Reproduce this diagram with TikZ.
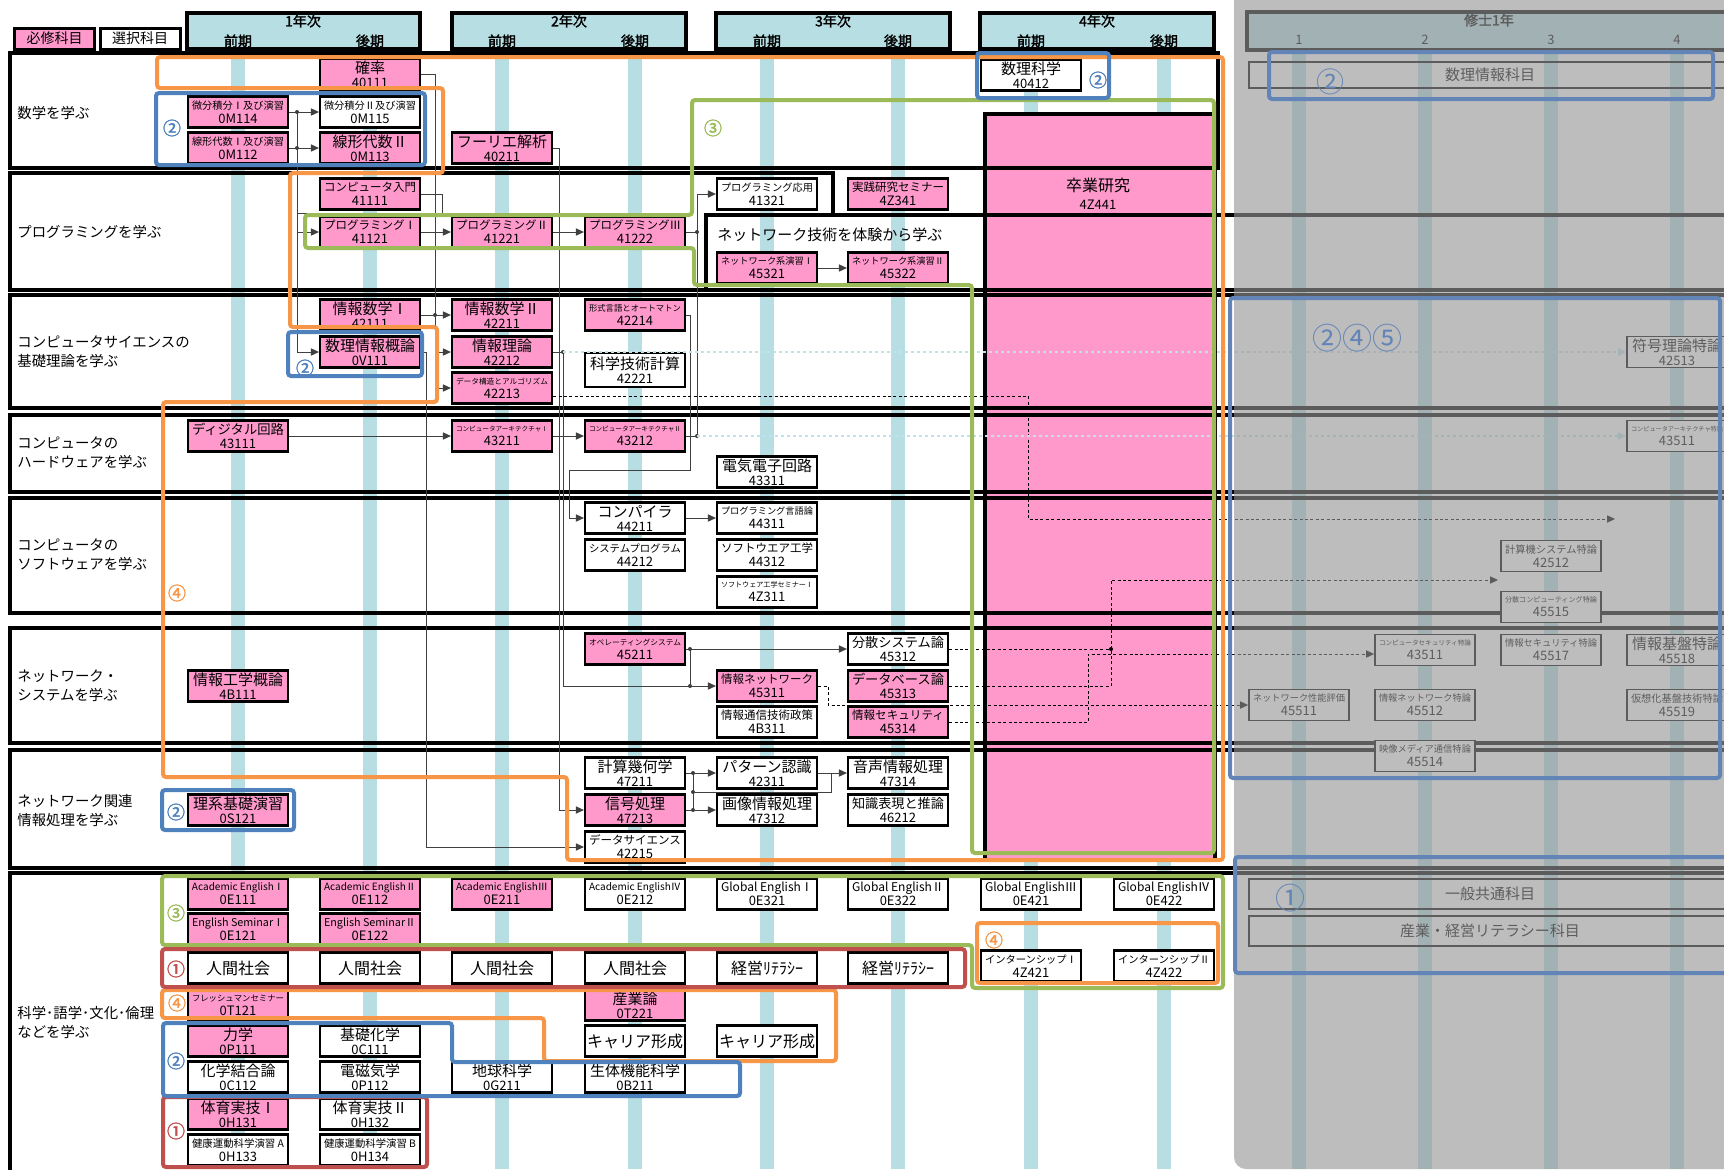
\documentclass[tikz,border=0pt]{standalone}
\usepackage{fontspec}
\setmainfont{Noto Sans CJK JP}[AutoFakeBold=2]
\usepackage{graphicx}
\usetikzlibrary{arrows.meta}

\definecolor{pinkbox}{HTML}{FF99CC}
\definecolor{stripe}{HTML}{B7DEE3}
\definecolor{grporange}{HTML}{F79646}
\definecolor{grpblue}{HTML}{4F81BD}
\definecolor{grpgreen}{HTML}{9BBB59}
\definecolor{grpred}{HTML}{C0504D}
\definecolor{coverg}{HTML}{969696}
\definecolor{fadeblue}{HTML}{6384B6}
\definecolor{linegray}{HTML}{404040}
\definecolor{faintcyan}{HTML}{BFE3E8}

\newsavebox\knbox
\newcommand\kname[1]{\sbox\knbox{#1}\ifdim\wd\knbox>46pt\resizebox{46pt}{!}{\usebox\knbox}\else\usebox\knbox\fi}
\newcommand\subj[2]{\kname{#1}\\[-1.5pt]{\fontsize{6.5}{7}\selectfont #2}}

\tikzset{
  >={Triangle[length=4pt,width=3.6pt]},
  kamoku/.style={draw, line width=1.1pt, minimum width=50pt, minimum height=15.5pt, inner sep=0pt, align=center, font=\fontsize{7.5}{8.5}\selectfont},
  hissu/.style={kamoku, fill=pinkbox},
  sentaku/.style={kamoku, fill=white},
  gbox/.style={kamoku, fill=white, line width=0.9pt},
  hdr/.style={draw, line width=1.8pt, fill=stripe},
  hdrtext/.style={font=\fontsize{7}{7}\selectfont\bfseries, inner sep=0pt},
  rowline/.style={line width=1.8pt},
  rowlabel/.style={anchor=west, align=left, inner sep=0pt, font=\fontsize{7.2}{9.5}\selectfont},
  conn/.style={draw=linegray, line width=0.5pt},
  dconn/.style={draw=black, line width=0.5pt, dash pattern=on 1.5pt off 1.2pt},
  fconn/.style={draw=faintcyan, line width=0.6pt, dash pattern=on 1.5pt off 1.5pt},
  grp/.style={line width=2pt, rounded corners=1.5pt},
  numlabel/.style={inner sep=0pt, font=\fontsize{9}{9}\selectfont\bfseries},
}

\begin{document}
\begin{tikzpicture}[x=0.5pt,y=-0.5pt]
\useasboundingbox (0,0) rectangle (1724,1169);
\fill[white] (0,0) rectangle (1724,1169);

% stripes under every term
\fill[stripe] (231,49) rectangle (245,1169);
\fill[stripe] (363,49) rectangle (377,1169);
\fill[stripe] (495,49) rectangle (509,1169);
\fill[stripe] (628,49) rectangle (642,1169);
\fill[stripe] (760,49) rectangle (774,1169);
\fill[stripe] (891,49) rectangle (905,1169);
\fill[stripe] (1024,49) rectangle (1038,1169);
\fill[stripe] (1157,49) rectangle (1171,1169);
\fill[stripe] (1292,50) rectangle (1306,1169);
\fill[stripe] (1418,50) rectangle (1432,1169);
\fill[stripe] (1544,50) rectangle (1558,1169);
\fill[stripe] (1670,50) rectangle (1684,1169);

% graduation research
\node[draw, line width=1.8pt, fill=pinkbox, minimum width=115pt, minimum height=373pt, anchor=north west, inner sep=0pt] (c4Z441) at (983,112) {};
\node[align=center, inner sep=0pt, font=\fontsize{8}{9}\selectfont] (t4Z441) at (1098,194) {卒業研究\\{\fontsize{6.5}{7}\selectfont 4Z441}};

% legend
\node[kamoku, fill=pinkbox, minimum width=40pt, minimum height=10.5pt, line width=1.5pt, font=\fontsize{7}{7}\selectfont] (leg1) at (54.5,38.5) {必修科目};
\node[kamoku, fill=white, minimum width=40pt, minimum height=10.5pt, line width=1.5pt, font=\fontsize{7}{7}\selectfont] (leg2) at (140,38.5) {選択科目};

% year headers
\draw[hdr] (187,13) rectangle (420,49);
\node[hdrtext] (y1) at (303,21) {1年次};
\node[hdrtext] (y1a) at (238,41) {前期};
\node[hdrtext] (y1b) at (370,41) {後期};
\draw[hdr] (452,13) rectangle (686,49);
\node[hdrtext] (y2) at (569,21) {2年次};
\node[hdrtext] (y2a) at (502,41) {前期};
\node[hdrtext] (y2b) at (635,41) {後期};
\draw[hdr] (716,13) rectangle (950,49);
\node[hdrtext] (y3) at (833,21) {3年次};
\node[hdrtext] (y3a) at (767,41) {前期};
\node[hdrtext] (y3b) at (898,41) {後期};
\draw[hdr] (980,13) rectangle (1214,49);
\node[hdrtext] (y4) at (1097,21) {4年次};
\node[hdrtext] (y4a) at (1031,41) {前期};
\node[hdrtext] (y4b) at (1164,41) {後期};
\draw[hdr] (1247,12) rectangle (1745,50);
\node[hdrtext] (m1) at (1489,20) {修士1年};
\node[inner sep=0pt, font=\fontsize{6.5}{7}\selectfont] (m1a) at (1299,40) {1};
\node[inner sep=0pt, font=\fontsize{6.5}{7}\selectfont] (m1b) at (1425,40) {2};
\node[inner sep=0pt, font=\fontsize{6.5}{7}\selectfont] (m1c) at (1551,40) {3};
\node[inner sep=0pt, font=\fontsize{6.5}{7}\selectfont] (m1d) at (1677,40) {4};

% rows
\draw[rowline] (10,53) rectangle (1218,168);
\draw[rowline] (833,215) |- (10,173) -- (10,290) -- (1745,290);
\draw[rowline] (1745,215) -- (706,215) -- (706,290);
\draw[rowline] (1745,295) -- (10,295) -- (10,408) -- (1745,408);
\draw[rowline] (1745,415) -- (10,415) -- (10,492) -- (1745,492);
\draw[rowline] (1745,498) -- (10,498) -- (10,613) -- (1745,613);
\draw[rowline] (1745,628) -- (10,628) -- (10,743) -- (1745,743);
\draw[rowline] (1745,750) -- (10,750) -- (10,868) -- (1745,868);
\draw[rowline] (1745,873) -- (10,873) -- (10,1180);

\node[rowlabel] (l1) at (17,113) {数学を学ぶ};
\node[rowlabel] (l2) at (17,232) {プログラミングを学ぶ};
\node[rowlabel] (l3) at (17,352) {コンピュータサイエンスの\\基礎理論を学ぶ};
\node[rowlabel] (l4) at (17,453) {コンピュータの\\ハードウェアを学ぶ};
\node[rowlabel] (l5) at (17,555) {コンピュータの\\ソフトウェアを学ぶ};
\node[rowlabel] (l6) at (17,686) {ネットワーク・\\システムを学ぶ};
\node[rowlabel] (l7) at (17,811) {ネットワーク関連\\情報処理を学ぶ};
\node[rowlabel] (l8) at (17,1022) {科学･語学･文化･倫理\\などを学ぶ};
\node[rowlabel, font=\fontsize{7.5}{9}\selectfont] (l2b) at (717,235) {ネットワーク技術を体験から学ぶ};

% mathematics
\node[hissu] (c40111) at (370,74) {\subj{確率}{40111}};
\node[hissu] (c0M114) at (238,112) {\subj{微分積分Ⅰ及び演習}{0M114}};
\node[sentaku] (c0M115) at (370,112) {\subj{微分積分Ⅱ及び演習}{0M115}};
\node[hissu] (c0M112) at (238,148) {\subj{線形代数Ⅰ及び演習}{0M112}};
\node[hissu] (c0M113) at (370,148) {\subj{線形代数Ⅱ}{0M113}};
\node[hissu] (c40211) at (502,148) {\subj{フーリエ解析}{40211}};
\node[sentaku] (c40412) at (1031,75) {\subj{数理科学}{40412}};

% programming
\node[hissu] (c41111) at (370,194) {\subj{コンピュータ入門}{41111}};
\node[hissu] (c41121) at (370,232) {\subj{プログラミングⅠ}{41121}};
\node[hissu] (c41221) at (502,232) {\subj{プログラミングⅡ}{41221}};
\node[hissu] (c41222) at (635,232) {\subj{プログラミングⅢ}{41222}};
\node[sentaku] (c41321) at (767,194) {\subj{プログラミング応用}{41321}};
\node[hissu] (c4Z341) at (898,194) {\subj{実践研究セミナー}{4Z341}};
\node[hissu] (c45321) at (767,268) {\subj{ネットワーク系演習Ⅰ}{45321}};
\node[hissu] (c45322) at (898,268) {\subj{ネットワーク系演習Ⅱ}{45322}};

% theory
\node[hissu] (c42111) at (370,315) {\subj{情報数学Ⅰ}{42111}};
\node[hissu] (c0V111) at (370,352) {\subj{数理情報概論}{0V111}};
\node[hissu] (c42211) at (502,315) {\subj{情報数学Ⅱ}{42211}};
\node[hissu] (c42212) at (502,352) {\subj{情報理論}{42212}};
\node[hissu] (c42213) at (502,388) {\subj{データ構造とアルゴリズム}{42213}};
\node[hissu] (c42214) at (635,315) {\subj{形式言語とオートマトン}{42214}};
\node[sentaku, minimum height=17pt] (c42221) at (635,370) {\subj{科学技術計算}{42221}};

% hardware
\node[hissu] (c43111) at (238,436) {\subj{ディジタル回路}{43111}};
\node[hissu] (c43211) at (502,436) {\subj{コンピュータアーキテクチャⅠ}{43211}};
\node[hissu] (c43212) at (635,436) {\subj{コンピュータアーキテクチャⅡ}{43212}};
\node[sentaku] (c43311) at (767,472) {\subj{電気電子回路}{43311}};

% software
\node[sentaku] (c44211) at (635,518) {\subj{コンパイラ}{44211}};
\node[sentaku] (c44212) at (635,555) {\subj{システムプログラム}{44212}};
\node[sentaku] (c44311) at (767,518) {\subj{プログラミング言語論}{44311}};
\node[sentaku] (c44312) at (767,555) {\subj{ソフトウエア工学}{44312}};
\node[sentaku] (c4Z311) at (767,592) {\subj{ソフトウェア工学セミナーⅠ}{4Z311}};

% network systems
\node[hissu] (c4B111) at (238,686) {\subj{情報工学概論}{4B111}};
\node[hissu] (c45211) at (635,649) {\subj{オペレーティングシステム}{45211}};
\node[sentaku] (c45312) at (898,649) {\subj{分散システム論}{45312}};
\node[hissu] (c45311) at (767,686) {\subj{情報ネットワーク}{45311}};
\node[hissu] (c45313) at (898,686) {\subj{データベース論}{45313}};
\node[sentaku] (c4B311) at (767,722) {\subj{情報通信技術政策}{4B311}};
\node[hissu] (c45314) at (898,722) {\subj{情報セキュリティ}{45314}};

% network related processing
\node[hissu] (c0S121) at (238,810) {\subj{理系基礎演習}{0S121}};
\node[sentaku] (c47211) at (635,773) {\subj{計算幾何学}{47211}};
\node[hissu] (c47213) at (635,810) {\subj{信号処理}{47213}};
\node[sentaku] (c42215) at (635,847) {\subj{データサイエンス}{42215}};
\node[sentaku] (c42311) at (767,773) {\subj{パターン認識}{42311}};
\node[sentaku] (c47312) at (767,810) {\subj{画像情報処理}{47312}};
\node[sentaku] (c47314) at (898,773) {\subj{音声情報処理}{47314}};
\node[sentaku] (c46212) at (898,810) {\subj{知識表現と推論}{46212}};

% general subjects
\node[hissu] (c0E111) at (238,894) {\subj{Academic EnglishⅠ}{0E111}};
\node[hissu] (c0E112) at (370,894) {\subj{Academic EnglishⅡ}{0E112}};
\node[hissu] (c0E211) at (502,894) {\subj{Academic EnglishⅢ}{0E211}};
\node[sentaku] (c0E212) at (635,894) {\subj{Academic EnglishⅣ}{0E212}};
\node[sentaku] (c0E321) at (767,894) {\subj{Global EnglishⅠ}{0E321}};
\node[sentaku] (c0E322) at (898,894) {\subj{Global EnglishⅡ}{0E322}};
\node[sentaku] (c0E421) at (1031,894) {\subj{Global EnglishⅢ}{0E421}};
\node[sentaku] (c0E422) at (1164,894) {\subj{Global EnglishⅣ}{0E422}};
\node[hissu] (c0E121) at (238,929) {\subj{English SeminarⅠ}{0E121}};
\node[hissu] (c0E122) at (370,929) {\subj{English SeminarⅡ}{0E122}};
\node[sentaku, font=\fontsize{8}{9}\selectfont] (jin1) at (238,968) {人間社会};
\node[sentaku, font=\fontsize{8}{9}\selectfont] (jin2) at (370,968) {人間社会};
\node[sentaku, font=\fontsize{8}{9}\selectfont] (jin3) at (502,968) {人間社会};
\node[sentaku, font=\fontsize{8}{9}\selectfont] (jin4) at (635,968) {人間社会};
\node[sentaku, font=\fontsize{8}{9}\selectfont] (kei1) at (767,968) {経営ﾘﾃﾗｼｰ};
\node[sentaku, font=\fontsize{8}{9}\selectfont] (kei2) at (898,968) {経営ﾘﾃﾗｼｰ};
\node[sentaku] (c4Z421) at (1031,966) {\subj{インターンシップⅠ}{4Z421}};
\node[sentaku] (c4Z422) at (1164,966) {\subj{インターンシップⅡ}{4Z422}};
\node[hissu] (c0T121) at (238,1005) {\subj{フレッシュマンセミナー}{0T121}};
\node[hissu] (c0T221) at (635,1005) {\subj{産業論}{0T221}};
\node[hissu] (c0P111) at (238,1041) {\subj{力学}{0P111}};
\node[sentaku] (c0C111) at (370,1041) {\subj{基礎化学}{0C111}};
\node[sentaku, font=\fontsize{8}{9}\selectfont] (car1) at (635,1041) {キャリア形成};
\node[sentaku, font=\fontsize{8}{9}\selectfont] (car2) at (767,1041) {キャリア形成};
\node[sentaku] (c0C112) at (238,1077) {\subj{化学結合論}{0C112}};
\node[sentaku] (c0P112) at (370,1077) {\subj{電磁気学}{0P112}};
\node[sentaku] (c0G211) at (502,1077) {\subj{地球科学}{0G211}};
\node[sentaku] (c0B211) at (635,1077) {\subj{生体機能科学}{0B211}};
\node[hissu] (c0H131) at (238,1114) {\subj{体育実技Ⅰ}{0H131}};
\node[sentaku] (c0H132) at (370,1114) {\subj{体育実技Ⅱ}{0H132}};
\node[sentaku] (c0H133) at (238,1150) {\subj{健康運動科学演習 A}{0H133}};
\node[sentaku] (c0H134) at (370,1150) {\subj{健康運動科学演習 B}{0H134}};

% master course
\draw[line width=1.1pt] (1249,62) rectangle (1745,88);
\node[font=\fontsize{7.5}{8}\selectfont] (sj1) at (1490,75) {数理情報科目};
\node[gbox] (m42513) at (1677,352) {\subj{符号理論特論}{42513}};
\node[gbox] (m43511) at (1677,436) {\subj{コンピュータアーキテクチャ特論}{43511}};
\node[gbox] (m42512) at (1551,556) {\subj{計算機システム特論}{42512}};
\node[gbox] (m45515) at (1551,607) {\subj{分散コンピューティング特論}{45515}};
\node[gbox] (m43511s) at (1425,650) {\subj{コンピュータセキュリティ特論}{43511}};
\node[gbox] (m45517) at (1551,650) {\subj{情報セキュリティ特論}{45517}};
\node[gbox] (m45518) at (1677,650) {\subj{情報基盤特論}{45518}};
\node[gbox] (m45511) at (1299,705) {\subj{ネットワーク性能評価}{45511}};
\node[gbox] (m45512) at (1425,705) {\subj{情報ネットワーク特論}{45512}};
\node[gbox] (m45519) at (1677,705) {\subj{仮想化基盤技術特論}{45519}};
\node[gbox] (m45514) at (1425,756) {\subj{映像メディア通信特論}{45514}};
\draw[line width=1.1pt] (1249,879) rectangle (1745,909);
\node[font=\fontsize{7.5}{8}\selectfont] (sj2) at (1490,894) {一般共通科目};
\draw[line width=1.1pt] (1249,916) rectangle (1745,946);
\node[font=\fontsize{7.5}{8}\selectfont] (sj3) at (1490,931) {産業・経営リテラシー科目};

% connectors
\coordinate (jm1) at (297,112);
\coordinate (jm2) at (297,148);
\coordinate (jp1) at (297,213);
\draw[conn] (c0M114.east) -- (jm1);
\draw[conn,->] (jm1) -- (c0M115.west);
\draw[conn] (c0M112.east) -- (jm2);
\draw[conn,->] (jm2) -- (c0M113.west);
\draw[conn,->] (jm1) |- (c0V111.west);
\draw[conn,->] (jp1) |- (c41121.west);
\draw[conn] (c41111.east) -- ++(21,0) |- (jp1);
\fill[linegray] (jm1) circle (2);
\fill[linegray] (jm2) circle (2);

\coordinate (jk) at (435,315);
\draw[conn] (c40111.east) -| (jk);
\draw[conn] (c42111.east) -- (jk);
\draw[conn,->] (jk) -- (c42211.west);
\draw[conn,->] (jk) |- (c42212.west);
\draw[conn,->] (jk) |- (c42213.west);
\fill[linegray] (jk) circle (2);

\draw[conn,->] (c0V111.east) -- ++(5,0) |- (c42215.west);
\draw[conn,->] (c40211.east) -- ++(6,0) |- (c47213.west);

\coordinate (jr) at (563,352);
\coordinate (jo1) at (690,649);
\coordinate (jo2) at (690,686);
\draw[conn] (c42212.east) -- (jr);
\draw[conn] (jr) |- (jo2);
\draw[conn,->] (jo2) -- (c45311.west);
\draw[conn] (c45211.east) -- (jo1);
\draw[conn,->] (jo1) -- (c45312.west);
\draw[conn] (jo1) -- (jo2);
\fill[linegray] (jr) circle (2);
\fill[linegray] (jo1) circle (2);
\fill[linegray] (jo2) circle (2);

\draw[conn,->] (c43111.east) -- (c43211.west);
\draw[conn,->] (c43211.east) -- (c43212.west);
\coordinate (jc) at (697,436);
\coordinate (jp3) at (697,232);
\draw[conn] (c43212.east) -- (jc);
\draw[conn] (c41222.east) -- (jp3);
\draw[conn] (jc) -- (jp3);
\draw[conn,->] (jp3) |- (c41321.west);
\fill[linegray] (jc) circle (2);
\fill[linegray] (jp3) circle (2);

\draw[conn,->] (c41121.east) -- (c41221.west);
\draw[conn,->] (c41221.east) -- (c41222.west);
\coordinate (jf) at (569,470);
\draw[conn,->] (c42214.east) -- ++(4,0) |- (jf) |- (c44211.west);
\draw[conn,->] (c44211.east) -- (c44311.west);
\draw[conn,->] (c45321.east) -- (c45322.west);

\coordinate (jg1) at (693,773);
\coordinate (jg2) at (693,792);
\coordinate (jg3) at (693,810);
\coordinate (jg4) at (831,773);
\draw[conn] (c47211.east) -- (jg1);
\draw[conn,->] (jg1) -- (c42311.west);
\draw[conn] (c47213.east) -- (jg3);
\draw[conn,->] (jg3) -- (c47312.west);
\draw[conn] (jg1) -- (jg3);
\draw[conn,->] (c42311.east) -- (c47314.west);
\draw[conn] (jg2) -| (jg4);
\fill[linegray] (jg1) circle (2);
\fill[linegray] (jg2) circle (2);
\fill[linegray] (jg3) circle (2);

% dashed links to the master course
\coordinate (dd1) at (1028,396);
\coordinate (da1) at (1615,519);
\draw[dconn,->] ([yshift=-4pt]c42213.east) -- (dd1) |- (da1);
\coordinate (dd2) at (1111,649);
\coordinate (da2) at (1498,580);
\draw[dconn] (c45312.east) -- (dd2);
\draw[dconn,->] (dd2) |- (da2);
\draw[dconn] (c45313.east) -| (dd2);
\fill (dd2) circle (2);
\draw[dconn,->] (c45311.east) -- ++(10,0) |- (m45511.west);
\coordinate (dd5) at (1088,654);
\draw[dconn,->] (c45314.east) -| (dd5) -- (m43511s.west |- dd5);
\draw[fconn,->] (jr) -- (m42513.west);
\draw[fconn,->] (jc) -- (m43511.west);

% groups
\draw[grp, grporange] (157,57) -- (1223,57) -- (1223,860) -- (567,860) -- (567,777) -- (163,777) -- (163,402) -- (437,402) -- (437,327) -- (290,327) -- (290,173) -- (443,173) -- (443,88) -- (157,88) -- cycle;
\draw[grp, grporange] (162,990) -- (836,990) -- (836,1061) -- (544,1061) -- (544,1018) -- (162,1018) -- cycle;
\draw[grp, grporange] (977,923) rectangle (1218,983);
\draw[grp, grpgreen] (692,100) -- (1214,100) -- (1214,853) -- (972,853) -- (972,285) -- (694,285) -- (694,248) -- (305,248) -- (305,215) -- (692,215) -- cycle;
\draw[grp, grpgreen] (162,876) -- (1223,876) -- (1223,988) -- (972,988) -- (972,945) -- (162,945) -- cycle;
\draw[grp, grpred] (162,949) rectangle (965,987);
\draw[grp, grpred] (163,1097) rectangle (427,1167);
\draw[grp, grpblue] (156,93) rectangle (425,165);
\draw[grp, grpblue] (288,332) rectangle (422,376);
\draw[grp, grpblue] (977,53) rectangle (1109,98);
\draw[grp, grpblue] (162,790) rectangle (294,830);
\draw[grp, grpblue] (163,1023) -- (452,1023) -- (452,1062) -- (740,1062) -- (740,1096) -- (163,1096) -- cycle;

\node[numlabel, text=grporange] (no1) at (177,593) {④};
\node[numlabel, text=grporange] (no2) at (177,1003) {④};
\node[numlabel, text=grporange] (no3) at (994,940) {④};
\node[numlabel, text=grpgreen] (ng1) at (713,128) {③};
\node[numlabel, text=grpgreen] (ng2) at (176,913) {③};
\node[numlabel, text=grpred] (nr1) at (176,969) {①};
\node[numlabel, text=grpred] (nr2) at (176,1131) {①};
\node[numlabel, text=grpblue] (nb1) at (172,128) {②};
\node[numlabel, text=grpblue] (nb2) at (305,368) {②};
\node[numlabel, text=grpblue] (nb3) at (1098,80) {②};
\node[numlabel, text=grpblue] (nb4) at (176,812) {②};
\node[numlabel, text=grpblue] (nb5) at (176,1061) {②};

% master course cover
\fill[coverg, opacity=0.62, rounded corners=6pt] (1234,-30) rectangle (1780,1169);
\draw[grp, fadeblue] (1269,52) rectangle (1713,99);
\draw[grp, fadeblue] (1230,298) rectangle (1720,778);
\draw[grp, fadeblue] (1235,857) rectangle (1745,973);
\node[inner sep=0pt, text=fadeblue, font=\fontsize{14}{14}\selectfont] (nf1) at (1330,82) {②};
\node[inner sep=0pt, text=fadeblue, font=\fontsize{15}{15}\selectfont] (nf2) at (1357,338) {②④⑤};
\node[inner sep=0pt, text=fadeblue, font=\fontsize{15}{15}\selectfont] (nf3) at (1290,898) {①};
\end{tikzpicture}
\end{document}
